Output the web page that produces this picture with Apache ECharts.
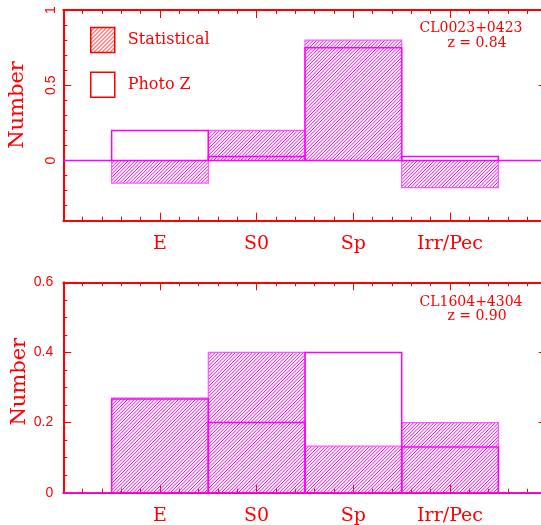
<!DOCTYPE html>
<html><head><meta charset="utf-8">
<script src="https://cdn.jsdelivr.net/npm/echarts@6/dist/echarts.min.js"></script>
<style>html,body{margin:0;padding:0;background:#fff}#c{width:541px;height:525px}</style>
</head><body><div id="c"></div>
<script>
// ---- data ----
const categories = ['E', 'S0', 'Sp', 'Irr/Pec'];
const topStatistical = [-0.15, 0.2, 0.8, -0.18];
const topPhotoZ = [0.2, 0.027, 0.75, 0.027];
const bottomStatistical = [0.27, 0.4, 0.133, 0.2];
const bottomPhotoZ = [0.267, 0.2, 0.4, 0.13];
const topYTickLabels = ['0', '0.5', '1'];
const bottomYTickLabels = ['0', '0.2', '0.4', '0.6'];
const topCluster = ['CL0023+0423', 'z = 0.84'];
const bottomCluster = ['CL1604+4304', 'z = 0.90'];
const legendNames = ['Statistical', 'Photo Z'];

// ---- styles ----
const RED = '#ff0000';
const MAG = '#ff00ff';
const SERIF = '"DejaVu Serif", serif';
const SANS = '"Liberation Sans", Arial, sans-serif';
const HATCH_STEP = 3.4;

function hatchPattern(color) {
  const c = document.createElement('canvas');
  c.width = 4; c.height = 4;
  const g = c.getContext('2d');
  g.strokeStyle = color; g.lineWidth = 1;
  g.beginPath();
  g.moveTo(0, 4); g.lineTo(4, 0);
  g.moveTo(-1, 1); g.lineTo(1, -1);
  g.moveTo(3, 5); g.lineTo(5, 3);
  g.stroke();
  return { image: c, repeat: 'repeat' };
}
const redHatch = hatchPattern(RED);

// diagonal "/" hatch lines clipped to a rectangle (screen coords)
function hatchPath(x0, y0, x1, y1, step) {
  let d = '';
  const cStart = Math.ceil((x0 + y0) / step) * step;
  for (let c = cStart; c <= x1 + y1; c += step) {
    const xa = Math.max(x0, c - y1), xb = Math.min(x1, c - y0);
    if (xb <= xa) continue;
    d += 'M' + xa.toFixed(2) + ' ' + (c - xa).toFixed(2) + 'L' + xb.toFixed(2) + ' ' + (c - xb).toFixed(2);
  }
  return d || 'M0 0';
}

const xMin = 0, xMax = categories.length + 1;
const firstEdge = 0.5, lastEdge = categories.length + 0.5;

function tickLabel(list) {
  return function (v) {
    const f = list.find(s => Math.abs(parseFloat(s) - v) < 1e-9);
    return f === undefined ? '' : f;
  };
}

function xAxes(gi) {
  const common = {
    type: 'value', gridIndex: gi, min: xMin, max: xMax, interval: 1,
    axisLine: { onZero: false, lineStyle: { color: RED, width: 2 } },
    axisTick: { inside: true, length: 8, lineStyle: { color: RED, width: 1 } },
    minorTick: { show: true, splitNumber: 5, length: 4, lineStyle: { color: RED, width: 1 } },
    splitLine: { show: false }
  };
  return [
    Object.assign({}, common, {
      position: 'bottom',
      axisLabel: {
        formatter: v => categories[v - 1] || '', color: RED, fontFamily: SERIF, fontSize: 19, margin: 14
      }
    }),
    Object.assign({}, common, { position: 'top', axisLabel: { show: false } })
  ];
}

function yAxes(gi, cfg, label) {
  const common = Object.assign({
    type: 'value', gridIndex: gi,
    axisLine: { show: true, onZero: false, lineStyle: { color: RED, width: 2 } },
    axisTick: { show: true, inside: true, length: 8, lineStyle: { color: RED, width: 1 } },
    minorTick: { show: true, length: 4, lineStyle: { color: RED, width: 1 } },
    splitLine: { show: false }
  }, cfg);
  common.minorTick = Object.assign({}, common.minorTick, { splitNumber: cfg.minorSplit });
  delete common.minorSplit;
  return [
    Object.assign({}, common, { position: 'left', axisLabel: label }),
    Object.assign({}, common, { position: 'right', axisLabel: { show: false } })
  ];
}

function statSeries(name, values, xi, yi) {
  return {
    type: 'custom', name: name, xAxisIndex: xi, yAxisIndex: yi, z: 2,
    itemStyle: { color: MAG },
    data: values.map((v, i) => [i + 1, v]),
    renderItem: function (params, api) {
      const x = api.value(0), v = api.value(1);
      const p0 = api.coord([x - 0.5, 0]);
      const p1 = api.coord([x + 0.5, v]);
      const rx0 = p0[0], rx1 = p1[0];
      const ry0 = Math.min(p0[1], p1[1]), ry1 = Math.max(p0[1], p1[1]);
      return {
        type: 'group', children: [
          { type: 'path', shape: { pathData: hatchPath(rx0, ry0, rx1, ry1, HATCH_STEP) },
            style: { fill: 'none', stroke: MAG, lineWidth: 1 } },
          { type: 'polyline', shape: { points: [[rx0, p0[1]], [rx0, p1[1]], [rx1, p1[1]], [rx1, p0[1]]] },
            style: { fill: 'none', stroke: '#ff55ff', lineWidth: 1.2 } }
        ]
      };
    }
  };
}

function photoSeries(name, values, xi, yi) {
  return {
    type: 'custom', name: name, xAxisIndex: xi, yAxisIndex: yi, z: 3,
    itemStyle: { color: MAG },
    data: values.map((v, i) => [i + 1, v]),
    renderItem: function (params, api) {
      const x = api.value(0), v = api.value(1);
      const p0 = api.coord([x - 0.5, 0]);
      const p1 = api.coord([x + 0.5, v]);
      return {
        type: 'rect',
        shape: { x: p0[0], y: Math.min(p0[1], p1[1]), width: p1[0] - p0[0], height: Math.abs(p1[1] - p0[1]) },
        style: { fill: 'none', stroke: MAG, lineWidth: 1.5 }
      };
    }
  };
}

function zeroLine(xi, yi) {
  return {
    type: 'custom', xAxisIndex: xi, yAxisIndex: yi, z: 4, silent: true, clip: false,
    data: [[0]],
    renderItem: function (params, api) {
      const a = api.coord([xMin, 0]), b = api.coord([firstEdge, 0]);
      const c = api.coord([lastEdge, 0]), d = api.coord([xMax, 0]);
      return {
        type: 'group', children: [
          { type: 'line', shape: { x1: a[0], y1: a[1], x2: b[0], y2: b[1] }, style: { stroke: MAG, lineWidth: 1.5 } },
          { type: 'line', shape: { x1: c[0], y1: c[1], x2: d[0], y2: d[1] }, style: { stroke: MAG, lineWidth: 1.5 } }
        ]
      };
    }
  };
}

const chart = echarts.init(document.getElementById('c'), null, { renderer: 'canvas' });

const option = {
  backgroundColor: '#fff',
  animation: false,
  grid: [
    { left: 63.3, right: -5.7, top: 10, height: 210.7, outerBoundsMode: 'none' },
    { left: 63.3, right: -5.7, top: 282.3, height: 210.4, outerBoundsMode: 'none' }
  ],
  xAxis: [].concat(xAxes(0), xAxes(1)),
  yAxis: [].concat(
    yAxes(0, { min: -0.4, max: 1, splitNumber: 3, minInterval: 0.5, maxInterval: 0.5, minorSplit: 5 },
      { rotate: 90, margin: 5, showMinLabel: false, formatter: tickLabel(topYTickLabels), color: RED, fontFamily: SANS, fontSize: 14 }),
    yAxes(1, { min: 0, max: 0.6, interval: 0.2, minorSplit: 4 },
      { margin: 10, formatter: tickLabel(bottomYTickLabels), color: RED, fontFamily: SANS, fontSize: 14, padding: [7, 0, 0, 0] })
  ),
  legend: {
    left: 90, top: 26.7, orient: 'vertical', padding: 0,
    itemWidth: 24, itemHeight: 25, itemGap: 18.3, selectedMode: false,
    textStyle: { color: RED, fontFamily: SERIF, fontSize: 16, padding: [0, 0, 0, 8] },
    data: [
      { name: legendNames[0], icon: 'rect', itemStyle: { color: redHatch, borderColor: RED, borderWidth: 1.5 } },
      { name: legendNames[1], icon: 'rect', itemStyle: { color: '#fff', borderColor: RED, borderWidth: 1.5 } }
    ]
  },
  graphic: [
    { type: 'text', x: 18, y: 105, rotation: Math.PI / 2, style: { text: 'Number', font: '21px ' + SERIF, fill: RED, align: 'center', verticalAlign: 'middle' } },
    { type: 'text', x: 20, y: 381.7, rotation: Math.PI / 2, style: { text: 'Number', font: '21px ' + SERIF, fill: RED, align: 'center', verticalAlign: 'middle' } },
    { type: 'text', x: 471, y: 28.3, style: { text: topCluster[0], font: '14px ' + SERIF, fill: RED, align: 'center', verticalAlign: 'middle' } },
    { type: 'text', x: 477, y: 43, style: { text: topCluster[1], font: '14px ' + SERIF, fill: RED, align: 'center', verticalAlign: 'middle' } },
    { type: 'text', x: 471, y: 302.5, style: { text: bottomCluster[0], font: '14px ' + SERIF, fill: RED, align: 'center', verticalAlign: 'middle' } },
    { type: 'text', x: 477, y: 316, style: { text: bottomCluster[1], font: '14px ' + SERIF, fill: RED, align: 'center', verticalAlign: 'middle' } }
  ],
  series: [
    statSeries(legendNames[0], topStatistical, 0, 0),
    photoSeries(legendNames[1], topPhotoZ, 0, 0),
    zeroLine(0, 0),
    statSeries(legendNames[0], bottomStatistical, 2, 2),
    photoSeries(legendNames[1], bottomPhotoZ, 2, 2),
    zeroLine(2, 2)
  ]
};
chart.setOption(option);
</script></body></html>
